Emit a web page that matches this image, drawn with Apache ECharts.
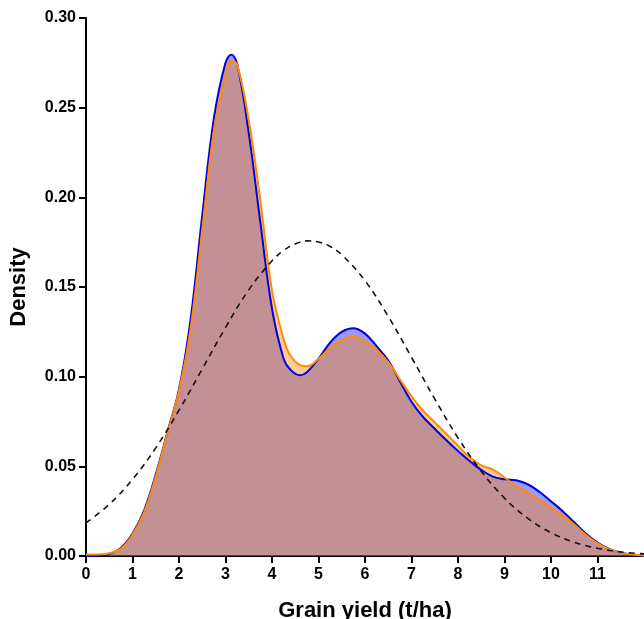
<!DOCTYPE html>
<html>
<head>
<meta charset="utf-8">
<script src="https://cdn.jsdelivr.net/npm/echarts@6/dist/echarts.min.js"></script>
<style>
  html, body { margin: 0; padding: 0; background: #fff; }
  #chart { width: 644px; height: 619px; }
</style>
</head>
<body>
<div id="chart"></div>
<script>
const xs = [0, 0.25, 0.5, 0.75, 1, 1.25, 1.5, 1.75, 2, 2.25, 2.5, 2.75, 3, 3.125, 3.25, 3.5, 3.75,
  4, 4.25, 4.4, 4.6, 4.75, 5, 5.25, 5.5, 5.75, 6, 6.25, 6.5, 6.75, 7, 7.25, 7.5, 7.75,
  8, 8.25, 8.5, 8.75, 9, 9.25, 9.5, 9.75, 10, 10.25, 10.5, 10.75, 11, 11.25, 11.5, 11.75, 12];

// blue density curve
const blueDensity = [0.0000, 0.0002, 0.0012, 0.0045, 0.0125, 0.0255, 0.0455, 0.0690, 0.0930, 0.1320,
  0.1900, 0.2440, 0.2750, 0.2795, 0.2745, 0.2360, 0.1860,
  0.1380, 0.1100, 0.1038, 0.1008, 0.1025,
  0.1100, 0.1190, 0.1250, 0.1270, 0.1240, 0.1170, 0.1090, 0.0975, 0.0860, 0.0775,
  0.0710, 0.0645, 0.0585, 0.0530, 0.0480, 0.0443, 0.0428, 0.0422, 0.0400, 0.0358,
  0.0305, 0.0250, 0.0188, 0.0125, 0.0075, 0.0040, 0.0018, 0.0007, 0.0003];

// orange density curve
const orangeDensity = [0.0008, 0.0009, 0.0015, 0.0040, 0.0120, 0.0245, 0.0445, 0.0685, 0.0920, 0.1270,
  0.1820, 0.2370, 0.2690, 0.2762, 0.2740, 0.2430, 0.1980,
  0.1480, 0.1210, 0.1115, 0.1065, 0.1058,
  0.1100, 0.1160, 0.1205, 0.1222, 0.1200, 0.1150, 0.1080, 0.0985, 0.0890, 0.0810,
  0.0745, 0.0680, 0.0615, 0.0550, 0.0505, 0.0482, 0.0438, 0.0390, 0.0355, 0.0312,
  0.0270, 0.0228, 0.0175, 0.0118, 0.0070, 0.0038, 0.0018, 0.0008, 0.0003];

// dashed reference curve
const normalXs = [0, 0.5, 1, 1.5, 2, 2.5, 3, 3.5, 4, 4.25, 4.5, 4.75, 5, 5.25, 5.5, 6, 6.5, 7, 7.5, 8, 8.5,
  9, 9.5, 10, 10.5, 11, 11.5, 12];
const normalDensity = [0.0185, 0.0288, 0.0427, 0.0603, 0.0813, 0.1043, 0.1274, 0.1484, 0.1646,
  0.1703, 0.1740, 0.1757, 0.1751, 0.1726, 0.1680, 0.1535, 0.1336, 0.1108, 0.0876, 0.0659, 0.0473,
  0.0323, 0.0210, 0.0130, 0.0077, 0.0043, 0.0023, 0.0012];

const xTicks = [0, 1, 2, 3, 4, 5, 6, 7, 8, 9, 10, 11];

const pairs = (x, y) => x.map((v, i) => [v, y[i]]);

const chart = echarts.init(document.getElementById('chart'), null, { renderer: 'canvas' });

const font = 'Liberation Sans, Arial, sans-serif';

chart.setOption({
  animation: false,
  grid: { left: 86, right: 0, top: 18, bottom: 63, containLabel: false, outerBoundsMode: 'none' },
  xAxis: {
    type: 'value',
    min: 0,
    max: 12,
    interval: 1,
    name: 'Grain yield (t/ha)',
    nameLocation: 'middle',
    nameGap: 44,
    nameTextStyle: { fontFamily: font, fontWeight: 'bold', fontSize: 22, color: '#000' },
    axisLine: { lineStyle: { color: '#000', width: 2 } },
    axisTick: { show: true, length: 7, lineStyle: { color: '#000', width: 2 }, customValues: xTicks },
    axisLabel: {
      customValues: xTicks,
      margin: 11,
      fontFamily: font, fontWeight: 'bold', fontSize: 16, color: '#000'
    },
    splitLine: { show: false }
  },
  yAxis: {
    type: 'value',
    min: 0,
    max: 0.3,
    interval: 0.05,
    name: 'Density',
    nameLocation: 'middle',
    nameGap: 56,
    nameTextStyle: { fontFamily: font, fontWeight: 'bold', fontSize: 22, color: '#000' },
    axisLine: { show: true, lineStyle: { color: '#000', width: 2 } },
    axisTick: { show: true, length: 7, lineStyle: { color: '#000', width: 2 } },
    axisLabel: {
      margin: 10,
      formatter: v => v.toFixed(2),
      fontFamily: font, fontWeight: 'bold', fontSize: 16, color: '#000'
    },
    splitLine: { show: false }
  },
  series: [
    {
      type: 'line',
      data: pairs(xs, blueDensity),
      smooth: 0.4,
      symbol: 'none',
      lineStyle: { color: '#0000dd', width: 2 },
      itemStyle: { color: '#0000dd' },
      areaStyle: { color: 'rgba(0,0,255,0.4)', opacity: 1, origin: 'start' }
    },
    {
      type: 'line',
      data: pairs(xs, orangeDensity),
      smooth: 0.4,
      symbol: 'none',
      lineStyle: { color: '#ff8c00', width: 2 },
      itemStyle: { color: '#ff8c00' },
      areaStyle: { color: 'rgba(255,130,0,0.41)', opacity: 1, origin: 'start' }
    },
    {
      type: 'line',
      data: pairs(normalXs, normalDensity),
      smooth: 0.4,
      symbol: 'none',
      lineStyle: { color: '#111', width: 1.6, type: [6, 5] },
      itemStyle: { color: '#111' }
    }
  ]
});
</script>
</body>
</html>
